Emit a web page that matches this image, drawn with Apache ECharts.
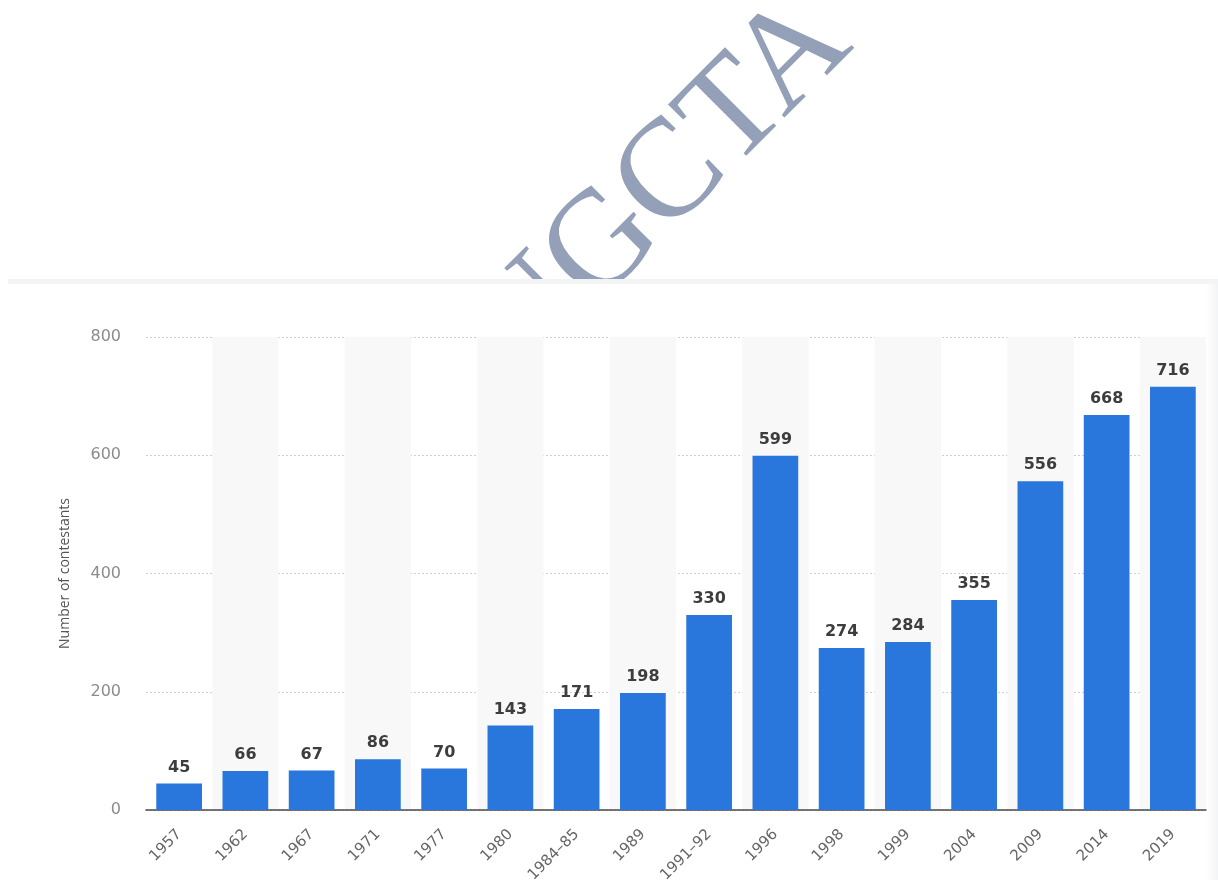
<!DOCTYPE html>
<html>
<head>
<meta charset="utf-8">
<script src="https://cdn.jsdelivr.net/npm/echarts@6/dist/echarts.min.js"></script>
<style>
html,body{margin:0;padding:0;background:#fff;}
#chart{width:1218px;height:880px;}
</style>
</head>
<body>
<div id="chart"></div>
<script>
const categories = ['1957','1962','1967','1971','1977','1980','1984–85','1989','1991–92','1996','1998','1999','2004','2009','2014','2019'];
const contestants = [45,66,67,86,70,143,171,198,330,599,274,284,355,556,668,716];
const yTicks = [0,200,400,600,800];
const yAxisTitle = 'Number of contestants';
const watermarkText = 'NGCTA';

const chart = echarts.init(document.getElementById('chart'), null, {renderer:'canvas'});
chart.setOption({
  animation: false,
  backgroundColor: '#ffffff',
  graphic: [
    {
      type: 'text', z: 0, x: 829, y: 21, rotation: Math.PI/4,
      style: {
        text: watermarkText, fill: '#93a0b7',
        font: '140px "Liberation Serif"', textAlign: 'right', textVerticalAlign: 'middle'
      }
    },
    { type: 'rect', z: 1, shape: {x: 0, y: 284, width: 1218, height: 596}, style: {fill: '#ffffff'} },
    { type: 'rect', z: 1, shape: {x: 8, y: 279, width: 1210, height: 5}, style: {fill: '#f3f4f6'} },
    { type: 'rect', z: 1, shape: {x: 1206, y: 284, width: 12, height: 596},
      style: {fill: new echarts.graphic.LinearGradient(0,0,1,0,[{offset:0,color:'rgba(240,241,244,0)'},{offset:1,color:'rgba(240,241,244,0.8)'}])} }
  ],
  grid: { left: 146, right: 12, top: 337, bottom: 70, containLabel: false, outerBoundsMode: 'none' },
  xAxis: {
    type: 'category', data: categories, z: 3,
    axisLine: { show: true, lineStyle: { color: '#4a4a4a', width: 1.5 } },
    axisTick: { show: false },
    axisLabel: { interval: 0, rotate: 45, color: '#666', fontFamily: 'DejaVu Sans', fontSize: 15, margin: 22 },
    splitArea: { show: true, areaStyle: { color: ['rgba(255,255,255,0)', '#f8f8f8'] } },
    splitLine: { show: false }
  },
  yAxis: {
    type: 'value', min: 0, max: 800, interval: 200, z: 3,
    name: yAxisTitle, nameLocation: 'middle', nameGap: 74,
    nameTextStyle: { color: '#555', fontFamily: 'Open Sans', fontSize: 14 },
    axisLine: { show: false }, axisTick: { show: false },
    axisLabel: { color: '#8c8c8c', fontFamily: 'DejaVu Sans', fontSize: 16, margin: 25,
      formatter: v => yTicks.includes(v) ? String(v) : '' },
    splitLine: { lineStyle: { color: '#cfcfcf', type: [2,2], width: 1 } }
  },
  series: [{
    type: 'bar', data: contestants, barWidth: '69%', z: 5,
    itemStyle: { color: '#2976dc' },
    label: { show: true, position: 'top', distance: 8, color: '#3d3d3d',
      fontFamily: 'DejaVu Sans', fontWeight: 'bold', fontSize: 16 }
  }]
});
</script>
</body>
</html>
